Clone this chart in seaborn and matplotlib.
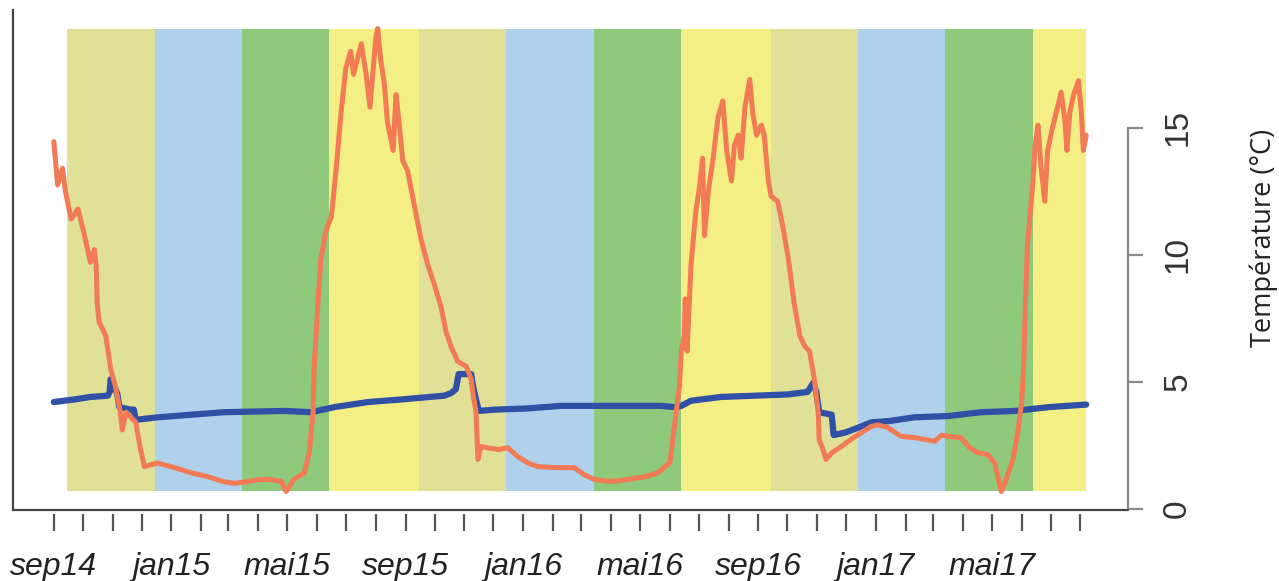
import pandas as pd
import matplotlib
matplotlib.use("Agg")
import matplotlib.pyplot as plt
import seaborn as sns

DEBUT = pd.Timestamp("2014-09-01")

# Température de surface : jours depuis le 1er septembre 2014, °C
jours_surface = [
    0, 4, 9, 12, 18, 25, 31, 38, 42, 44, 45, 47, 54, 59, 64, 69, 71, 75, 80, 85,
    90, 94, 101, 108, 125, 142, 160, 176, 187, 201, 215, 225, 236, 241, 249, 260,
    265, 269, 270, 274, 277, 282, 288, 293, 298, 303, 308, 311, 319, 324, 328, 334,
    336, 339, 343, 346, 352, 355, 358, 362, 367, 374, 381, 388, 395, 402, 407, 412,
    419, 428, 433, 435, 438, 440, 443, 450, 461, 471, 481, 492, 502, 520, 540, 550,
    561, 578, 595, 613, 627, 634, 639, 643, 647, 649, 651, 654, 655, 657, 661, 666,
    670, 673, 675, 679, 684, 689, 694, 698, 703, 706, 710, 713, 717, 722, 725, 729,
    734, 737, 741, 744, 751, 756, 762, 768, 774, 779, 784, 789, 793, 794, 798, 801,
    807, 817, 827, 838, 848, 855, 865, 869, 879, 893, 903, 914, 921, 928, 941, 950,
    959, 969, 976, 980, 983, 988, 995, 1000, 1004, 1006, 1008, 1010, 1013, 1016,
    1018, 1021, 1024, 1028, 1031, 1036, 1040, 1045, 1049, 1051, 1054, 1058, 1063,
    1066, 1068, 1071,
]
temp_surface = [
    14.45, 12.74, 13.4, 12.5, 11.4, 11.8, 10.9, 9.7, 10.2, 9.6, 8.1, 7.35, 6.8, 5.5,
    4.8, 3.8, 3.1, 3.8, 3.6, 3.4, 2.33, 1.66, 1.74, 1.8, 1.62, 1.42, 1.26, 1.07, 1.0,
    1.07, 1.15, 1.15, 1.08, 0.68, 1.15, 1.42, 2.2, 3.8, 5.5, 8.1, 9.8, 10.9, 11.5,
    13.4, 15.6, 17.35, 18.0, 17.1, 18.3, 17.1, 15.8, 18.5, 18.9, 17.7, 16.7, 15.25,
    14.1, 16.3, 15.25, 13.7, 13.3, 11.95, 10.6, 9.6, 8.8, 7.9, 6.95, 6.4, 5.8, 5.6,
    5.1, 4.5, 3.8, 1.94, 2.45, 2.4, 2.33, 2.4, 2.06, 1.8, 1.66, 1.62, 1.62, 1.34,
    1.15, 1.07, 1.15, 1.26, 1.42, 1.66, 1.8, 3.0, 4.2, 4.8, 6.2, 6.8, 8.26, 6.2,
    9.6, 11.7, 12.7, 13.8, 10.75, 12.5, 13.8, 15.4, 16.05, 14.1, 12.9, 14.3, 14.7,
    13.8, 15.8, 16.9, 15.6, 14.7, 15.1, 14.7, 13.0, 12.3, 12.1, 11.15, 9.85, 8.1,
    6.8, 6.4, 6.2, 5.1, 3.8, 2.73, 2.33, 1.94, 2.2, 2.45, 2.73, 3.0, 3.24, 3.3, 3.2,
    3.1, 2.85, 2.8, 2.73, 2.66, 2.9, 2.85, 2.8, 2.4, 2.2, 2.13, 1.8, 1.15, 0.68,
    1.15, 1.94, 3.0, 4.2, 5.5, 8.1, 10.35, 11.7, 13.0, 14.3, 15.1, 13.5, 12.1, 14.1,
    15.0, 15.6, 16.4, 15.25, 14.1, 15.6, 16.3, 16.85, 15.6, 14.1, 14.7,
]

# Température de fond : jours depuis le 1er septembre 2014, °C
jours_fond = [
    0, 21, 38, 56, 58, 59, 64, 66, 68, 80, 83, 85, 108, 142, 177, 239, 267, 291,
    326, 360, 405, 412, 417, 420, 433, 435, 438, 441, 457, 492, 526, 630, 644, 651,
    661, 692, 727, 762, 782, 788, 791, 794, 807, 809, 821, 835, 848, 866, 893, 928,
    962, 997, 1032, 1071,
]
temp_fond = [
    4.2, 4.3, 4.4, 4.45, 4.6, 5.1, 4.7, 4.5, 4.0, 3.9, 3.9, 3.5, 3.6, 3.7, 3.8,
    3.85, 3.8, 4.0, 4.2, 4.3, 4.45, 4.55, 4.7, 5.3, 5.3, 4.8, 4.3, 3.85, 3.9, 3.95,
    4.05, 4.05, 4.0, 4.05, 4.25, 4.4, 4.45, 4.5, 4.6, 4.96, 4.6, 3.8, 3.7, 2.9, 3.0,
    3.2, 3.4, 3.45, 3.6, 3.65, 3.8, 3.85, 4.0, 4.1,
]

# Saisons (bandes de fond)
saison_debut = [
    "2014-09-15", "2014-12-15", "2015-03-15", "2015-06-14",
    "2015-09-15", "2015-12-14", "2016-03-14", "2016-06-13",
    "2016-09-14", "2016-12-13", "2017-03-14", "2017-06-13",
]
saison_nom = ["automne", "hiver", "printemps", "été"] * 3
saison_fin = "2017-08-07"
couleurs_saison = {
    "automne": "#e0e096",
    "hiver": "#afd1ec",
    "printemps": "#8ec97c",
    "été": "#f4ef84",
}

# Graduations mensuelles, étiquetées tous les quatre mois
mois_debut = "2014-09-01"
mois_fin = "2017-08-01"
mois_labels = ["sep14", "jan15", "mai15", "sep15", "jan16", "mai16",
               "sep16", "jan17", "mai17"]

sns.set_style("white")
plt.rcParams["font.family"] = ["Liberation Sans", "DejaVu Sans"]

W, H = 1279, 581
fig = plt.figure(figsize=(W / 100, H / 100), dpi=100)
ax = fig.add_axes([12.5 / W, 71 / H, 1115 / W, 500 / H])

def jour(d):
    return (pd.Timestamp(d) - DEBUT).days

# Bandes saisonnières entre le minimum et le maximum de la surface
bas, haut = min(temp_surface), max(temp_surface)
bornes = [jour(d) for d in saison_debut] + [jour(saison_fin)]
for i, nom in enumerate(saison_nom):
    ax.fill_between([bornes[i], bornes[i + 1]], bas, haut,
                    color=couleurs_saison[nom], lw=0, zorder=0)

df_fond = pd.DataFrame({"jour": jours_fond, "temp": temp_fond})
df_surf = pd.DataFrame({"jour": jours_surface, "temp": temp_surface})
sns.lineplot(data=df_fond, x="jour", y="temp", color="#3050a6", lw=4.5,
             ax=ax, zorder=2, solid_capstyle="round", solid_joinstyle="round")
sns.lineplot(data=df_surf, x="jour", y="temp", color="#f27b56", lw=3.6,
             ax=ax, zorder=3, solid_capstyle="round", solid_joinstyle="round")

# Limites avec 4 % de marge
xs = jours_surface + jours_fond
x0, x1 = min(xs), max(xs)
ys = temp_surface + temp_fond
y0, y1 = min(ys), max(ys)
ax.set_xlim(x0 - 0.04 * (x1 - x0), x1 + 0.04 * (x1 - x0))
ax.set_ylim(y0 - 0.04 * (y1 - y0), y1 + 0.04 * (y1 - y0))
ax.set_xlabel("")
ax.set_ylabel("")

# Axe x
ax.tick_params(axis="x", bottom=True, direction="out", length=12.5, width=1.6,
               color="#555555", pad=15)
ax.spines["bottom"].set_position(("outward", 3))
ax.spines["bottom"].set_visible(False)
ax.plot([0, 1], [0, 0], transform=ax.transAxes, color="#444444", lw=1.6,
        clip_on=False, zorder=5)
mois = pd.date_range(mois_debut, mois_fin, freq="MS")
pos = [(m - DEBUT).days for m in mois]
labels = [mois_labels[i // 4] if i % 4 == 0 else "" for i in range(len(mois))]
ax.set_xticks(pos)
ax.set_xticklabels(labels, fontstyle="italic", fontsize=23, color="#222222")

# Axe y à droite
ax.yaxis.tick_right()
ax.tick_params(axis="y", right=True, left=False, direction="out", length=11,
               width=1.6, color="#8a8a8a", pad=14)
ax.set_yticks([0, 5, 10, 15])
ax.set_yticklabels(["0", "5", "10", "15"], rotation=90, fontsize=24,
                   color="#333333", va="center")
ax.spines["right"].set_bounds(0, 15)
ax.spines["right"].set_color("#8a8a8a")
ax.spines["right"].set_linewidth(1.6)
ax.spines["left"].set_color("#444444")
ax.spines["left"].set_linewidth(1.6)
ax.spines["top"].set_visible(False)

fig.text(1264 / W, 1 - 238 / H, "Température (°C)", rotation=90,
         ha="center", va="center", fontsize=19.5,
         family=["Open Sans", "DejaVu Sans"], color="#222222")

fig.savefig("out.png", dpi=100)
